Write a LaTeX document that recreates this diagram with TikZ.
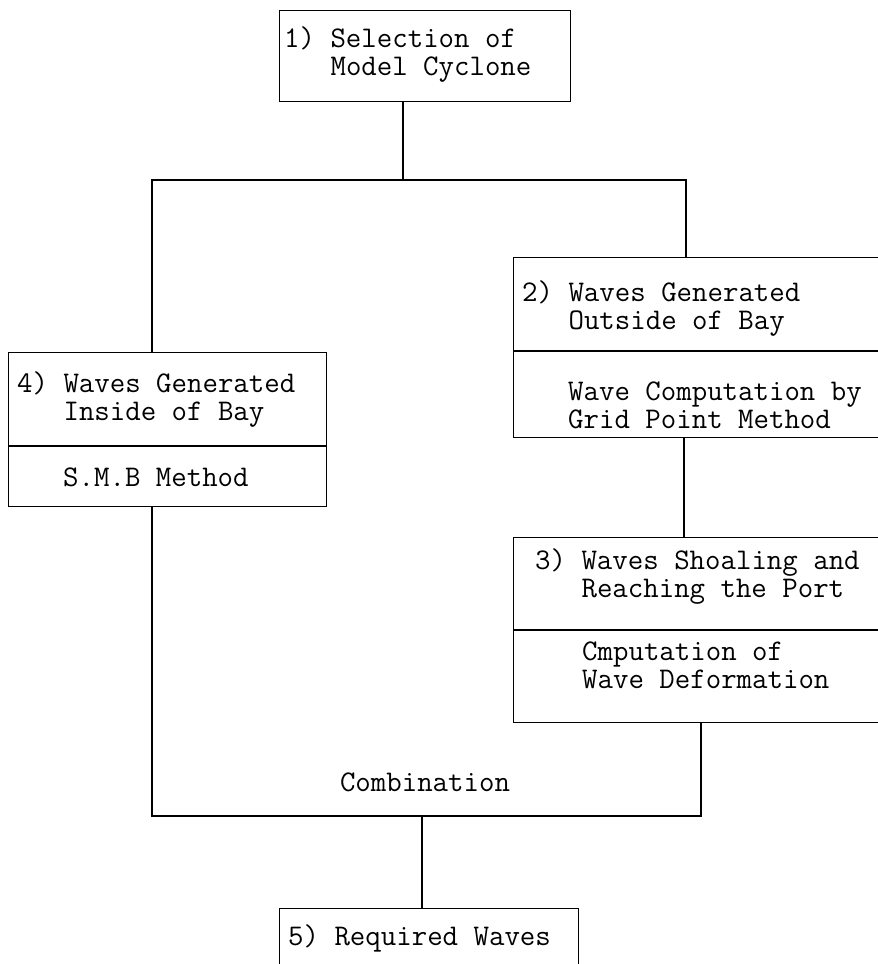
\documentclass[tikz,border=0pt]{standalone}
\usepackage{fontspec}
\begin{document}
\begin{tikzpicture}[x=1pt,y=-1pt,
  box/.style={draw, line width=1.4pt, inner sep=0pt, anchor=north west},
  txt/.style={font=\ttfamily\fontsize{30}{28}\selectfont, align=left, inner sep=0pt, anchor=west},
  link/.style={line width=1.4pt}]
\useasboundingbox (0,0) rectangle (878,964);
% boxes
\node[box, minimum width=291pt, minimum height=91pt] (b1) at (279,10) {};
\node[box, minimum width=318pt, minimum height=154pt] (b4) at (8,352) {};
\node[box, minimum width=380pt, minimum height=180pt] (b2) at (513,257) {};
\node[box, minimum width=380pt, minimum height=185pt] (b3) at (513,537) {};
\node[box, minimum width=299pt, minimum height=80pt] (b5) at (279,908) {};
% divider levels
\coordinate (d4) at (0,446);
\coordinate (d2) at (0,351);
\coordinate (d3) at (0,630);
\draw[link] (b4.west |- d4) -- (b4.east |- d4);
\draw[link] (b2.west |- d2) -- (b2.east |- d2);
\draw[link] (b3.west |- d3) -- (b3.east |- d3);
% texts
\node[txt] (t1) at (284,55) {1) Selection of\\\hphantom{1)~}Model Cyclone};
\node[txt] (t4a) at (17,400) {4) Waves Generated\\\hphantom{4)~}Inside of Bay};
\node[txt] (t4b) at (63,477) {S.M.B Method};
\node[txt] (t2a) at (522,309) {2) Waves Generated\\\hphantom{2)~}Outside of Bay};
\node[txt] (t2b) at (568,405) {Wave Computation by\\Grid Point Method};
\node[txt] (t3a) at (535,577) {3) Waves Shoaling and\\\hphantom{3)~}Reaching the Port};
\node[txt] (t3b) at (582,665) {Cmputation of\\Wave Deformation};
\node[txt, anchor=center] (comb) at (425,782) {Combination};
\node[txt] (t5) at (288,938) {5) Required Waves};
% junctions
\coordinate (j1) at (403,180);
\coordinate (jl) at (152,180);
\coordinate (jr) at (686,180);
\coordinate (k23) at (684,0);
\coordinate (cl) at (152,816);
\coordinate (cr) at (701,816);
\coordinate (c5) at (422,816);
% connectors
\draw[link] (b1.south -| j1) -- (j1);
\draw[link] (b4.north -| jl) -- (jl) -- (jr) -- (b2.north -| jr);
\draw[link] (b2.south -| k23) -- (b3.north -| k23);
\draw[link] (b4.south -| cl) -- (cl) -- (cr) -- (b3.south -| cr);
\draw[link] (c5) -- (b5.north -| c5);
\end{tikzpicture}
\end{document}
